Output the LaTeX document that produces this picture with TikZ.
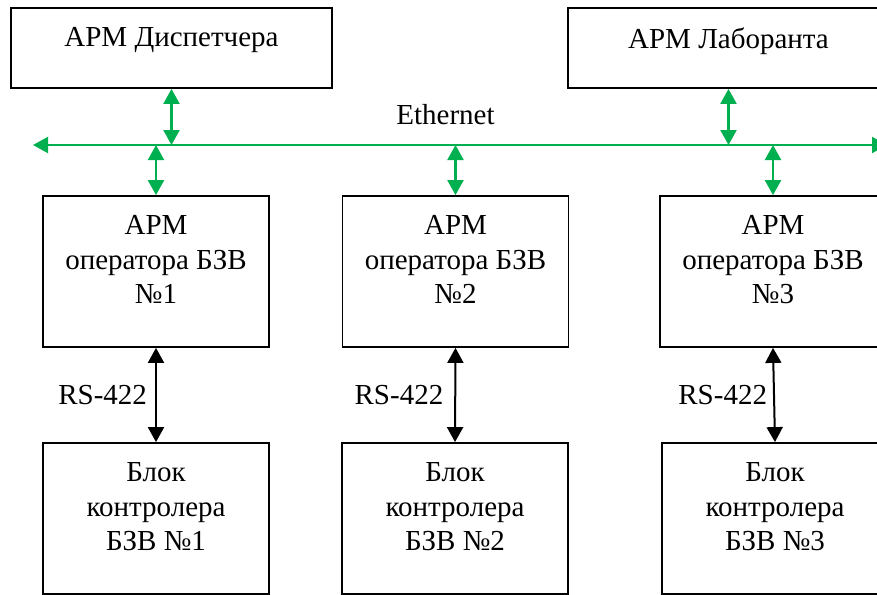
\documentclass[tikz,border=0pt]{standalone}
\usepackage{fontspec}
\setmainfont{Liberation Serif}
\usetikzlibrary{arrows.meta}
\definecolor{netgreen}{RGB}{0,176,80}
\tikzset{
  box/.style={draw=black, line width=1.8pt, rectangle, inner sep=0pt, minimum height=151pt, minimum width=226pt},
  topbox/.style={box, minimum width=321pt, minimum height=80pt},
  boxtext/.style={anchor=north, inner sep=0pt, align=center, yshift=-20.5pt,
    font=\fontsize{29}{34.5}\selectfont},
  lbl/.style={inner sep=0pt, font=\fontsize{29}{34.5}\selectfont},
  tip/.tip={Triangle[length=15pt,width=16pt]},
  gline/.style={draw=netgreen, line width=2.2pt, tip-tip},
  bline/.style={draw=black, line width=2pt, tip-tip},
}
\begin{document}
\begin{tikzpicture}[x=1pt,y=-1pt]
\useasboundingbox (0,0) rectangle (877,594);
\clip (0,0) rectangle (877,594);

% workstations on the network
\node[topbox] (disp) at (171.5,48) {};
\node[boxtext] (dispT) at (disp.north) {АРМ Диспетчера};
\node[topbox] (lab) at (728.5,48) {};
\node[boxtext] (labT) at (lab.north) {АРМ Лаборанта};

% operator workstations
\node[box] (op1) at (156,271.5) {};
\node[boxtext] (op1T) at (op1.north) {АРМ\\оператора БЗВ\\№1};
\node[box] (op2) at (455.5,271.5) {};
\node[boxtext] (op2T) at (op2.north) {АРМ\\оператора БЗВ\\№2};
\node[box] (op3) at (773,271.5) {};
\node[boxtext] (op3T) at (op3.north) {АРМ\\оператора БЗВ\\№3};

% controller units
\node[box] (bl1) at (156,518.5) {};
\node[boxtext] (bl1T) at (bl1.north) {Блок\\контролера\\БЗВ №1};
\node[box] (bl2) at (455,518.5) {};
\node[boxtext] (bl2T) at (bl2.north) {Блок\\контролера\\БЗВ №2};
\node[box] (bl3) at (775,518.5) {};
\node[boxtext] (bl3T) at (bl3.north) {Блок\\контролера\\БЗВ №3};

% Ethernet bus
\coordinate (ethL) at (33,145);
\coordinate (ethR) at (887,145);
\draw[gline] (ethL) -- (ethR);
\node[lbl, anchor=base] (eth) at (445.5,124) {Ethernet};

% taps onto the bus
\draw[gline] (disp.south) -- (disp.south |- ethL);
\draw[gline] (lab.south) -- (lab.south |- ethL);
\draw[gline] (op1.north |- ethL) -- (op1.north);
\draw[gline] (op2.north |- ethL) -- (op2.north);
\draw[gline] (op3.north |- ethL) -- (op3.north);

% serial links
\draw[bline] (op1.south) -- node[lbl, anchor=east, xshift=-8pt] (rs1) {RS-422} (bl1.north);
\draw[bline] (op2.south) -- node[lbl, anchor=east, xshift=-11pt] (rs2) {RS-422} (bl2.north);
\draw[bline] (op3.south) -- node[lbl, anchor=east, xshift=-6pt] (rs3) {RS-422} (bl3.north);
\end{tikzpicture}
\end{document}
